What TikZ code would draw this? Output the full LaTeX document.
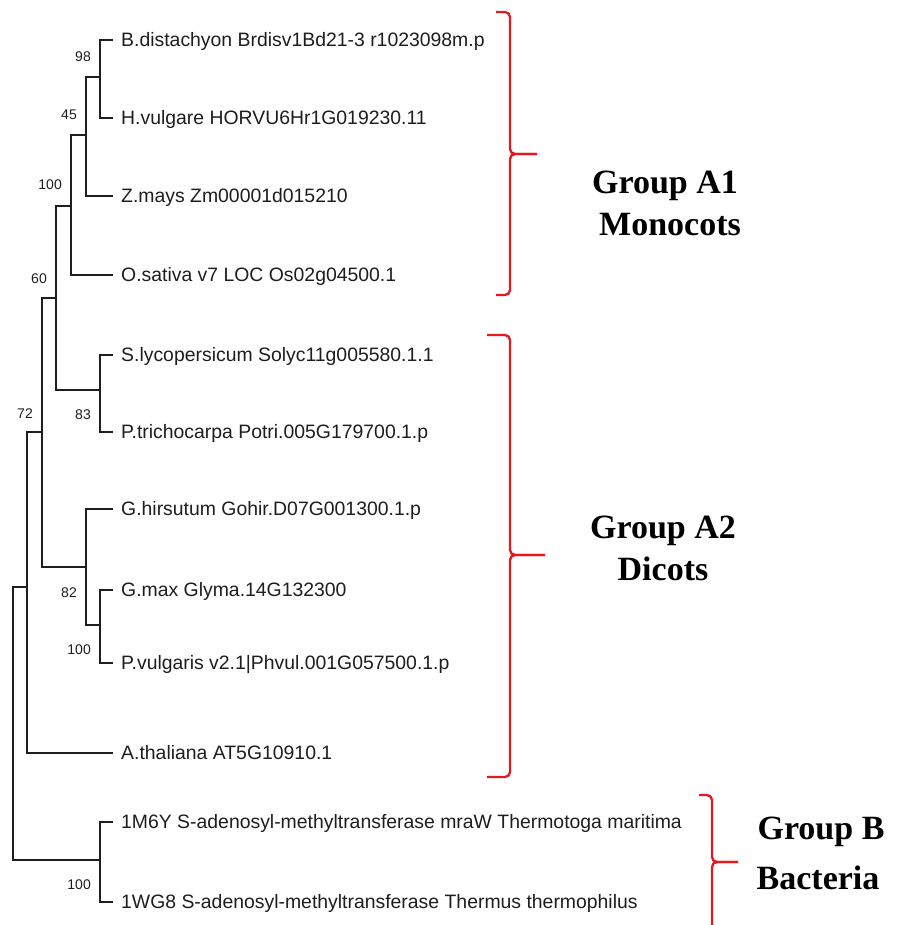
\documentclass[tikz,border=0pt]{standalone}
\usepackage{fontspec}
\setmainfont{Liberation Sans}
\newfontfamily\grpfont{Liberation Serif}
\definecolor{bracered}{RGB}{228,24,32}
\definecolor{ink}{RGB}{30,30,30}
\begin{document}
\begin{tikzpicture}[x=1pt,y=-1pt,
  branch/.style={draw=ink, line width=1.3pt},
  leaf/.style={anchor=west, inner xsep=8pt, inner ysep=0pt, text height=13.9pt, text depth=0pt, font=\fontsize{19.4}{22}\selectfont, text=ink},
  boot/.style={anchor=east, inner sep=0pt, text height=10pt, text depth=0pt, font=\fontsize{14}{16}\selectfont, text=ink},
  grp/.style={anchor=base, inner sep=0pt, font=\grpfont\bfseries\fontsize{34}{40}\selectfont},
  brace/.style={draw=bracered, line width=2.3pt, rounded corners=5pt}]
\useasboundingbox (0,0) rectangle (898,925);
\fill[white] (0,0) rectangle (898,925);

% internal nodes
\coordinate (n1) at (100,77);
\coordinate (n2) at (86,135);
\coordinate (n3) at (71,206);
\coordinate (n4) at (56,298);
\coordinate (n5) at (100,390);
\coordinate (n6) at (42,432);
\coordinate (n7) at (86,567);
\coordinate (n8) at (100,625);
\coordinate (n9) at (27,587);
\coordinate (n10) at (100,860);
\coordinate (root) at (13,723);

% leaves
\node[leaf] (Bd) at (113,40) {B.distachyon Brdisv1Bd21-3 r1023098m.p};
\node[leaf] (Hv) at (113,118) {H.vulgare HORVU6Hr1G019230.11};
\node[leaf] (Zm) at (113,196) {Z.mays Zm00001d015210};
\node[leaf] (Os) at (113,275) {O.sativa v7 LOC Os02g04500.1};
\node[leaf] (Sl) at (113,355) {S.lycopersicum Solyc11g005580.1.1};
\node[leaf] (Pt) at (113,432) {P.trichocarpa Potri.005G179700.1.p};
\node[leaf] (Gh) at (113,509) {G.hirsutum Gohir.D07G001300.1.p};
\node[leaf] (Gm) at (113,590) {G.max Glyma.14G132300};
\node[leaf] (Pv) at (113,663) {P.vulgaris v2.1|Phvul.001G057500.1.p};
\node[leaf] (At) at (113,753) {A.thaliana AT5G10910.1};
\node[leaf] (M6) at (113,822) {1M6Y S-adenosyl-methyltransferase mraW Thermotoga maritima};
\node[leaf] (W8) at (113,902) {1WG8 S-adenosyl-methyltransferase Thermus thermophilus};

% branches
\draw[branch] (n1) |- (Bd.west);
\draw[branch] (n1) |- (Hv.west);
\draw[branch] (n2) |- (n1);
\draw[branch] (n2) |- (Zm.west);
\draw[branch] (n3) |- (n2);
\draw[branch] (n3) |- (Os.west);
\draw[branch] (n4) |- (n3);
\draw[branch] (n4) |- (n5);
\draw[branch] (n5) |- (Sl.west);
\draw[branch] (n5) |- (Pt.west);
\draw[branch] (n6) |- (n4);
\draw[branch] (n6) |- (n7);
\draw[branch] (n7) |- (Gh.west);
\draw[branch] (n7) |- (n8);
\draw[branch] (n8) |- (Gm.west);
\draw[branch] (n8) |- (Pv.west);
\draw[branch] (n9) |- (n6);
\draw[branch] (n9) |- (At.west);
\draw[branch] (n10) |- (M6.west);
\draw[branch] (n10) |- (W8.west);
\draw[branch] (root) |- (n9);
\draw[branch] (root) |- (n10);

% bootstrap values
\node[boot] (b1) at ([xshift=-9pt,yshift=20pt]n1) {98};
\node[boot] (b2) at ([xshift=-9pt,yshift=20pt]n2) {45};
\node[boot] (b3) at ([xshift=-9pt,yshift=21pt]n3) {100};
\node[boot] (b4) at ([xshift=-9pt,yshift=20pt]n4) {60};
\node[boot] (b6) at ([xshift=-9pt,yshift=19pt]n6) {72};
\node[boot] (b5) at ([xshift=-9pt,yshift=-24pt]n5) {83};
\node[boot] (b7) at ([xshift=-9pt,yshift=-25pt]n7) {82};
\node[boot] (b8) at ([xshift=-9pt,yshift=-24pt]n8) {100};
\node[boot] (b10) at ([xshift=-9pt,yshift=-24pt]n10) {100};

% braces
\draw[brace] (496,12) -- (510,12) -- (510,154) -- (537,154);
\draw[brace] (537,154) -- (510,154) -- (510,295) -- (496,295);
\draw[brace] (487,335) -- (510,335) -- (510,555) -- (545,555);
\draw[brace] (545,555) -- (510,555) -- (510,777) -- (487,777);
\draw[brace] (699,795) -- (712,795) -- (712,862) -- (738,862);
\draw[brace] (738,862) -- (712,862) -- (712,935);

% group labels
\node[grp] (gA1a) at (665,194) {Group A1};
\node[grp] (gA1b) at (670,235) {Monocots};
\node[grp] (gA2a) at (663,538) {Group A2};
\node[grp] (gA2b) at (663,580) {Dicots};
\node[grp] (gBa) at (821,839) {Group B};
\node[grp] (gBb) at (818,889) {Bacteria};
\end{tikzpicture}
\end{document}
